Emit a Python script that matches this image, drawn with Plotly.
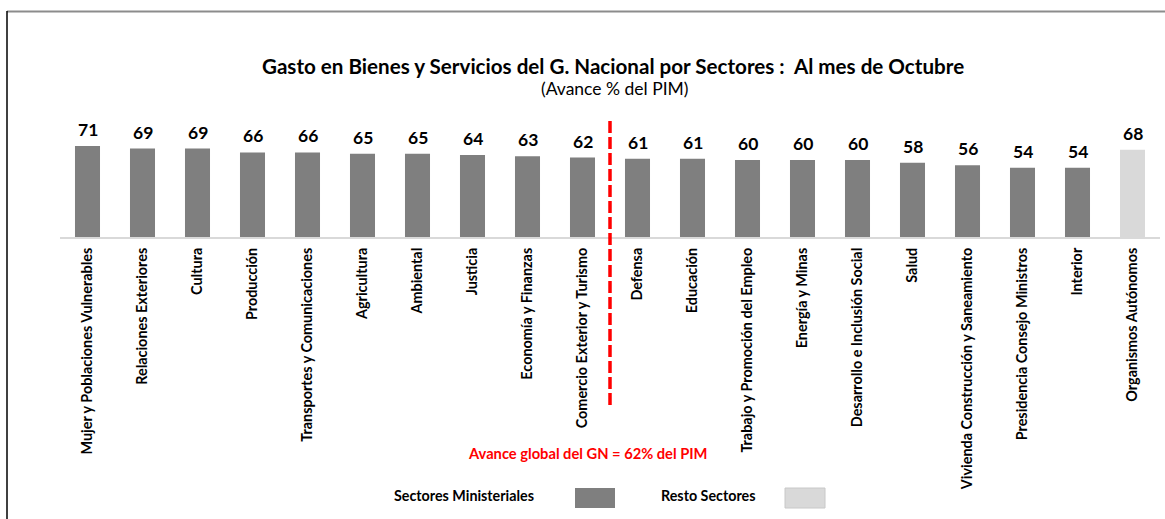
import plotly.graph_objects as go

# ---- data ----
sectores = [
    "Mujer y Poblaciones Vulnerables", "Relaciones Exteriores", "Cultura", "Producción",
    "Transportes y Comunicaciones", "Agricultura", "Ambiental", "Justicia",
    "Economía y Finanzas", "Comercio Exterior y Turismo", "Defensa", "Educación",
    "Trabajo y Promoción del Empleo", "Energía y Minas", "Desarrollo e Inclusión Social",
    "Salud", "Vivienda Construcción y Saneamiento", "Presidencia Consejo Ministros",
    "Interior", "Organismos Autónomos",
]
avance = [71, 69, 69, 66, 66, 65, 65, 64, 63, 62, 61, 61, 60, 60, 60, 58, 56, 54, 54, 68]
grupo = ["Ministerial"] * 19 + ["Resto"]
avance_global = 62
titulo = "Gasto en Bienes y Servicios del G. Nacional por Sectores :  Al mes de Octubre"
subtitulo = "(Avance % del PIM)"
nota = "Avance global del GN = 62% del PIM"
leyenda = ["Sectores Ministeriales", "Resto Sectores"]

# ---- style ----
W, H = 1165, 519
M_L, M_R, M_T, M_B = 60, 5, 20, 282
PLOT_W = W - M_L - M_R
PLOT_H = H - M_T - M_B
BASE_PY = H - M_B
PX_PER_UNIT = 1.282
COL = {"Ministerial": "#7f7f7f", "Resto": "#d9d9d9"}
FONT = "Lato"


def py(p):
    return (BASE_PY - p) / PLOT_H


def px(p):
    return (p - M_L) / PLOT_W


fig = go.Figure()
fig.add_trace(go.Bar(
    x=sectores, y=avance,
    marker=dict(color=[COL[g] for g in grupo], line=dict(width=0)),
    hoverinfo="x+y", showlegend=False,
))

annotations = []
for s, v in zip(sectores, avance):
    annotations.append(dict(
        x=s, y=v, xref="x", yref="y", text=f"<b>{v}</b>", showarrow=False,
        xanchor="center", yanchor="bottom", yshift=4,
        font=dict(family=FONT, size=17.5, color="#000000"),
    ))


def txt(x, y, text, size, color="#000000"):
    return dict(x=px(x), y=py(y), xref="paper", yref="paper", text=text, showarrow=False,
                xanchor="center", yanchor="middle", font=dict(family=FONT, size=size, color=color))


annotations += [
    txt(613, 66, f"<b>{titulo}</b>", 20.6),
    txt(615, 88, subtitulo, 17.5),
    txt(588, 453, f"<b>{nota}</b>", 14.7, "#ff0000"),
    txt(464, 496, f"<b>{leyenda[0]}</b>", 14.3),
    txt(708, 496, f"<b>{leyenda[1]}</b>", 14.3),
]

idx_div = sectores.index("Defensa") - 0.5
shapes = [
    # dashed separator
    dict(type="line", xref="x", yref="paper", x0=idx_div, x1=idx_div,
         y0=py(121), y1=py(407), line=dict(color="#ff0000", width=3.5, dash="12px,4px")),
    # legend swatches
    dict(type="rect", xref="paper", yref="paper", x0=px(575), x1=px(615), y0=py(488), y1=py(508),
         fillcolor=COL["Ministerial"], line=dict(width=0)),
    dict(type="rect", xref="paper", yref="paper", x0=px(785), x1=px(825), y0=py(488), y1=py(508),
         fillcolor=COL["Resto"], line=dict(color="#c8c8c8", width=1)),
    # frame
    dict(type="line", xref="paper", yref="paper", x0=px(7), x1=px(1165), y0=py(11.5), y1=py(11.5),
         line=dict(color="#8c8c8c", width=2)),
    dict(type="line", xref="paper", yref="paper", x0=px(7), x1=px(7), y0=py(11), y1=py(519),
         line=dict(color="#000000", width=1.5)),
]

fig.update_layout(
    width=W, height=H,
    margin=dict(l=M_L, r=M_R, t=M_T, b=M_B, autoexpand=False),
    paper_bgcolor="white", plot_bgcolor="white",
    bargap=0.545,
    xaxis=dict(
        type="category", tickangle=-90, showgrid=False, zeroline=False,
        showline=True, linecolor="#d9d9d9", linewidth=2,
        ticks="outside", ticklen=3, tickcolor="rgba(0,0,0,0)",
        tickfont=dict(family=FONT, size=14.4, color="#000000", weight="bold"),
    ),
    yaxis=dict(range=[0, PLOT_H / PX_PER_UNIT], visible=False, fixedrange=True),
    annotations=annotations,
    shapes=shapes,
    showlegend=False,
)

fig.write_html(
    "out.html",
    config={"displayModeBar": False},
    post_script="document.body.style.margin='0px';document.body.style.overflow='hidden';",
)
